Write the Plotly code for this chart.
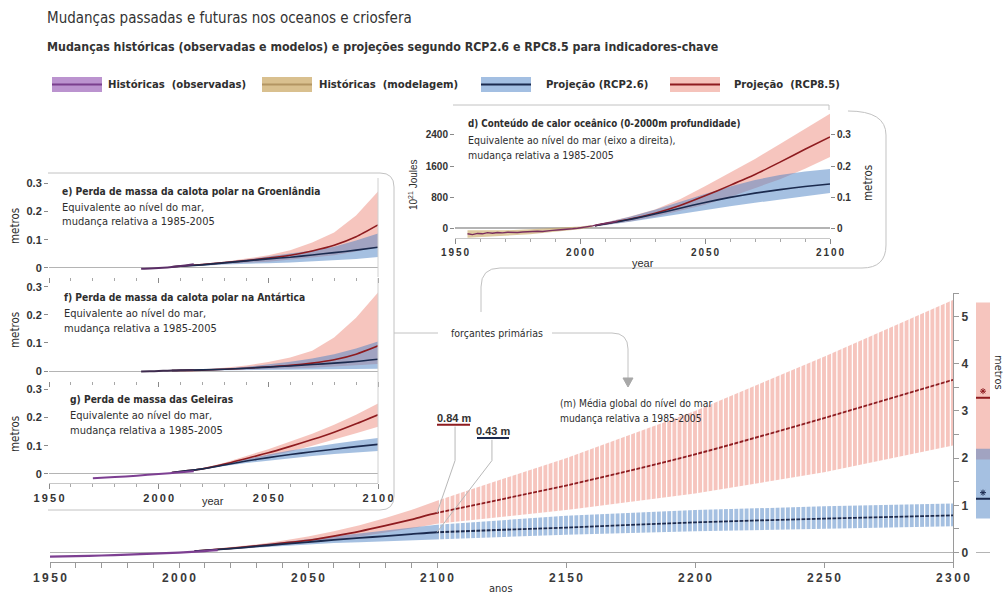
import plotly.graph_objects as go

W, H = 1005, 594

# ---------------- (m) global mean sea level, metres rel. 1986-2005 ----------------
gmsl_obs_year = [1950, 1960, 1970, 1980, 1990, 2000, 2010, 2015]
gmsl_obs = [-0.085, -0.075, -0.062, -0.045, -0.022, 0.0, 0.03, 0.05]

gmsl_year = [2006, 2020, 2030, 2040, 2050, 2060, 2070, 2080, 2090, 2100,
             2150, 2200, 2250, 2300]
gmsl_rcp26_mid = [0.03, 0.085, 0.13, 0.18, 0.22, 0.27, 0.31, 0.35, 0.39, 0.43, 0.53, 0.64, 0.72, 0.79]
gmsl_rcp26_lo = [0.02, 0.07, 0.10, 0.14, 0.17, 0.20, 0.22, 0.25, 0.27, 0.29, 0.38, 0.45, 0.51, 0.56]
gmsl_rcp26_hi = [0.04, 0.10, 0.16, 0.22, 0.28, 0.34, 0.40, 0.46, 0.52, 0.59, 0.78, 0.90, 0.98, 1.04]
gmsl_rcp85_mid = [0.03, 0.09, 0.14, 0.20, 0.26, 0.35, 0.45, 0.57, 0.70, 0.84, 1.42, 2.08, 2.85, 3.66]
gmsl_rcp85_lo = [0.02, 0.07, 0.11, 0.16, 0.21, 0.27, 0.34, 0.42, 0.51, 0.61, 0.90, 1.25, 1.70, 2.27]
gmsl_rcp85_hi = [0.04, 0.11, 0.17, 0.25, 0.34, 0.45, 0.58, 0.73, 0.90, 1.10, 2.00, 3.00, 4.15, 5.35]

# bar beside the right axis (RCP2.6, RCP8.5)
bar_scenario = ["RCP2.6", "RCP8.5"]
bar_low = [0.72, 1.97]
bar_high = [2.20, 5.30]
bar_mid = [1.14, 3.28]
bar_star = [1.27, 3.42]

# ---------------- inset panels e/f/g, metres of sea-level equivalent ----------------
proj_year = [2006, 2020, 2030, 2040, 2050, 2060, 2070, 2080, 2090, 2100]

e_obs_year = [1992, 1996, 2000, 2004, 2008, 2012, 2016]
e_obs = [-0.003, -0.002, 0.0, 0.002, 0.005, 0.009, 0.013]
e_rcp26_mid = [0.004, 0.011, 0.018, 0.025, 0.032, 0.038, 0.046, 0.054, 0.063, 0.073]
e_rcp26_lo = [0.003, 0.008, 0.012, 0.015, 0.017, 0.019, 0.022, 0.027, 0.032, 0.039]
e_rcp26_hi = [0.005, 0.014, 0.022, 0.030, 0.040, 0.050, 0.062, 0.075, 0.097, 0.122]
e_rcp85_mid = [0.004, 0.012, 0.019, 0.026, 0.035, 0.045, 0.060, 0.080, 0.110, 0.152]
e_rcp85_lo = [0.003, 0.009, 0.013, 0.018, 0.022, 0.030, 0.037, 0.045, 0.058, 0.075]
e_rcp85_hi = [0.005, 0.014, 0.022, 0.033, 0.045, 0.063, 0.090, 0.125, 0.185, 0.270]

f_obs_year = [1992, 1996, 2000, 2004, 2008, 2012, 2016]
f_obs = [-0.002, -0.001, 0.0, 0.001, 0.002, 0.003, 0.004]
f_rcp26_mid = [0.002, 0.004, 0.006, 0.010, 0.014, 0.018, 0.023, 0.028, 0.034, 0.042]
f_rcp26_lo = [0.001, 0.002, 0.003, 0.004, 0.004, 0.005, 0.006, 0.006, 0.007, 0.008]
f_rcp26_hi = [0.003, 0.005, 0.009, 0.015, 0.023, 0.033, 0.045, 0.060, 0.080, 0.105]
f_rcp85_mid = [0.002, 0.003, 0.006, 0.010, 0.015, 0.020, 0.028, 0.040, 0.060, 0.090]
f_rcp85_lo = [0.001, 0.002, 0.003, 0.005, 0.007, 0.009, 0.012, 0.015, 0.020, 0.025]
f_rcp85_hi = [0.003, 0.006, 0.012, 0.020, 0.032, 0.048, 0.072, 0.120, 0.190, 0.280]

g_obs_year = [1970, 1980, 1990, 2000, 2010, 2016]
g_obs = [-0.015, -0.011, -0.006, 0.0, 0.006, 0.010]
g_rcp26_mid = [0.005, 0.018, 0.032, 0.046, 0.058, 0.069, 0.079, 0.088, 0.097, 0.105]
g_rcp26_lo = [0.005, 0.016, 0.028, 0.039, 0.048, 0.056, 0.064, 0.071, 0.077, 0.082]
g_rcp26_hi = [0.005, 0.020, 0.037, 0.054, 0.069, 0.083, 0.096, 0.107, 0.118, 0.128]
g_rcp85_mid = [0.005, 0.018, 0.035, 0.055, 0.075, 0.098, 0.122, 0.148, 0.178, 0.210]
g_rcp85_lo = [0.005, 0.016, 0.030, 0.047, 0.063, 0.080, 0.100, 0.122, 0.145, 0.168]
g_rcp85_hi = [0.005, 0.020, 0.040, 0.063, 0.088, 0.115, 0.143, 0.175, 0.210, 0.250]

# ---------------- inset d: ocean heat content 0-2000 m, 10^21 J ----------------
d_model_year = [1955, 1960, 1970, 1980, 1990, 2000, 2005]
d_model_lo = [-250, -230, -200, -160, -100, -30, 20]
d_model_hi = [-60, -60, -60, -30, 10, 40, 80]
d_obs_year = [1955, 1957, 1959, 1961, 1963, 1965, 1967, 1969, 1971, 1973, 1975, 1977,
              1979, 1981, 1983, 1985, 1987, 1989, 1991, 1993, 1995, 1997, 1999, 2001,
              2003, 2005, 2007, 2009, 2011, 2013, 2015]
d_obs = [-150, -170, -140, -150, -120, -135, -115, -125, -110, -120, -115, -105,
         -95, -100, -85, -90, -70, -60, -50, -45, -30, -20, -5, 10,
         30, 55, 85, 100, 130, 150, 175]
d_rcp26_mid = [60, 220, 360, 510, 660, 790, 900, 990, 1070, 1135]
d_rcp26_lo = [40, 160, 260, 360, 460, 560, 650, 740, 820, 900]
d_rcp26_hi = [80, 290, 470, 680, 880, 1070, 1240, 1370, 1460, 1520]
d_rcp85_mid = [60, 230, 380, 580, 830, 1100, 1380, 1700, 2030, 2350]
d_rcp85_lo = [40, 170, 290, 440, 600, 800, 1020, 1260, 1530, 1830]
d_rcp85_hi = [80, 300, 480, 740, 1080, 1420, 1780, 2170, 2560, 2950]
JOULE_PER_METRE = 8000  # 800 x 10^21 J of heat ~ 0.1 m of thermosteric rise

# ---------------- styling ----------------
PINK = "rgba(238,140,125,0.5)"
BLUE = "rgba(75,130,195,0.5)"
TAN = "rgba(200,165,95,0.6)"
RED = "#8e1b1f"
NAVY = "#1b2a4e"
PURPLE = "#7d3f92"
GREY = "#c2c2c2"
AXIS = "#9a9a9a"
TXT = "#2e2e2e"
COND = "DejaVu Sans Condensed, DejaVu Sans, sans-serif"
NUM = "Liberation Sans, Arial, sans-serif"
THIN = "\u2009"


def spaced(s):
    return THIN.join(s)


def px(x):
    return x / W


def py(y):
    return 1 - y / H


def P(x, y):
    return f"{px(x):.5f},{py(y):.5f}"


fig = go.Figure()
annotations = []


def text(x, y, s, size, bold=False, anchor="left", color=TXT, family=COND, angle=0):
    annotations.append(dict(
        x=px(x), y=py(y), xref="paper", yref="paper", text=s, showarrow=False,
        xanchor=anchor, yanchor="middle", textangle=angle,
        font=dict(size=size, color=color, family=family, weight="bold" if bold else "normal")))


def band(xs, lo, hi, color, xa="x", ya="y"):
    fig.add_trace(go.Scatter(
        x=list(xs) + list(xs)[::-1], y=list(hi) + list(lo)[::-1],
        fill="toself", fillcolor=color, mode="lines", line=dict(width=0),
        xaxis=xa, yaxis=ya, hoverinfo="skip", showlegend=False))


def curve(xs, ys, color, width, xa="x", ya="y", smooth=True):
    fig.add_trace(go.Scatter(
        x=xs, y=ys, mode="lines",
        line=dict(color=color, width=width, shape="spline" if smooth else "linear",
                  smoothing=0.6),
        xaxis=xa, yaxis=ya, hoverinfo="skip", showlegend=False))


# ---- main panel (m) ----
band(gmsl_year, gmsl_rcp85_lo, gmsl_rcp85_hi, PINK)
band(gmsl_year, gmsl_rcp26_lo, gmsl_rcp26_hi, BLUE)
curve(gmsl_year, gmsl_rcp85_mid, RED, 1.8)
curve(gmsl_year, gmsl_rcp26_mid, NAVY, 1.8)
curve(gmsl_obs_year, gmsl_obs, PURPLE, 2.2)

# white hatching over the 2100-2300 extension
sx, sy = [], []
for yr in range(2101, 2300, 2):
    sx += [yr, yr, None]
    sy += [0.15, 5.5, None]
fig.add_trace(go.Scatter(x=sx, y=sy, mode="lines", line=dict(color="white", width=1.3),
                         hoverinfo="skip", showlegend=False))

# leader lines for the 2100 values
i2100 = gmsl_year.index(2100)
for val, xlab, ylab, col, (ux0, ux1) in [
        (gmsl_rcp85_mid[i2100], 2107.0, 2.67, RED, (2100.0, 2112.8)),
        (gmsl_rcp26_mid[i2100], 2121.3, 2.39, NAVY, (2115.5, 2127.9))]:
    curve([xlab, xlab, 2100], [ylab, 1.95, val], "#b8b8b8", 1, smooth=False)
    curve([ux0, ux1], [ylab + 0.04, ylab + 0.04], col, 2, smooth=False)
    annotations.append(dict(x=(ux0 + ux1) / 2, y=ylab + 0.19, xref="x", yref="y",
                            text=f"<b>{val:.2f} m</b>", showarrow=False,
                            font=dict(size=11, color="#333", family=NUM)))

# bar on the far right
for lo, hi, col in [(bar_low[1], bar_high[1], PINK), (bar_low[0], bar_high[0], BLUE)]:
    fig.add_trace(go.Bar(x=[0.5], y=[hi - lo], base=[lo], width=[1.0],
                         marker=dict(color=col, line=dict(width=0)),
                         xaxis="x7", yaxis="y", hoverinfo="skip", showlegend=False))
for mid, star, col in [(bar_mid[1], bar_star[1], RED), (bar_mid[0], bar_star[0], NAVY)]:
    curve([0, 1], [mid, mid], col, 2, xa="x7", smooth=False)
    fig.add_trace(go.Scatter(x=[0.5], y=[star], mode="markers",
                             marker=dict(symbol="asterisk-open", size=5, color=col,
                                         line=dict(color=col, width=1)),
                             xaxis="x7", yaxis="y", hoverinfo="skip", showlegend=False))

# ---- panels e, f, g ----
for xa, ya, obs_x, obs_y, lo85, hi85, mid85, lo26, hi26, mid26, obs_col in [
        ("x2", "y2", e_obs_year, e_obs, e_rcp85_lo, e_rcp85_hi, e_rcp85_mid,
         e_rcp26_lo, e_rcp26_hi, e_rcp26_mid, "#5a2d66"),
        ("x3", "y3", f_obs_year, f_obs, f_rcp85_lo, f_rcp85_hi, f_rcp85_mid,
         f_rcp26_lo, f_rcp26_hi, f_rcp26_mid, "#3e2b4e"),
        ("x4", "y4", g_obs_year, g_obs, g_rcp85_lo, g_rcp85_hi, g_rcp85_mid,
         g_rcp26_lo, g_rcp26_hi, g_rcp26_mid, PURPLE)]:
    band(proj_year, lo85, hi85, PINK, xa, ya)
    band(proj_year, lo26, hi26, BLUE, xa, ya)
    curve(proj_year, mid85, RED, 1.6, xa, ya)
    curve(proj_year, mid26, NAVY, 1.6, xa, ya)
    curve(obs_x, obs_y, obs_col, 2, xa, ya)

# ---- panel d ----
band(d_model_year, d_model_lo, d_model_hi, TAN, "x5", "y5")
band(proj_year, d_rcp85_lo, d_rcp85_hi, PINK, "x5", "y5")
band(proj_year, d_rcp26_lo, d_rcp26_hi, BLUE, "x5", "y5")
curve(proj_year, d_rcp85_mid, RED, 1.6, "x5", "y5")
curve(proj_year, d_rcp26_mid, NAVY, 1.6, "x5", "y5")
curve(d_obs_year, d_obs, "#7a2f5e", 1.4, "x5", "y5", smooth=False)
fig.add_trace(go.Scatter(x=[None], y=[None], xaxis="x5", yaxis="y6", showlegend=False))

# ---------------- axes ----------------
tickfont_main = dict(size=12, color="#3a3a3a", family=NUM, weight="bold")
main_major = [1950, 2000, 2050, 2100, 2150, 2200, 2250, 2300]
main_minor = [yr for yr in range(1960, 2100, 10) if yr % 50 != 0]

layout_axes = dict(
    xaxis=dict(domain=[px(50), px(953)], range=[1950, 2300], anchor="y",
               showline=True, linecolor=AXIS, ticks="outside", ticklen=5, tickcolor=AXIS,
               tickvals=main_major, ticktext=[spaced(str(t)) for t in main_major],
               minor=dict(tickvals=main_minor, ticks="outside", ticklen=5, tickcolor=AXIS),
               tickfont=tickfont_main, showgrid=False, zeroline=False, automargin=False),
    yaxis=dict(domain=[py(562), py(293)], range=[-0.2, 5.5], anchor="x", side="right",
               showline=True, linecolor=AXIS, ticks="outside", ticklen=5, tickcolor=AXIS,
               tickvals=[0, 1, 2, 3, 4, 5],
               minor=dict(tickvals=[0.5, 1.5, 2.5, 3.5, 4.5, 5.5], ticks="outside",
                          ticklen=5, tickcolor=AXIS),
               tickfont=tickfont_main, showgrid=False, automargin=False,
               zeroline=True, zerolinecolor="#b4b4b4", zerolinewidth=1),
    xaxis7=dict(domain=[px(976), px(990)], range=[0, 1], anchor="y", visible=False),
)

inset_tickfont = dict(size=11, color="#333", family=NUM, weight="bold")
# pixel boxes (top, bottom) and y ranges of e, f, g
for n, (top, bot, rng, labels) in zip(
        [2, 3, 4],
        [(178, 277, [-0.032, 0.318], False),
         (278, 381, [-0.0357, 0.332], False),
         (381, 483, [-0.032, 0.33], True)]):
    layout_axes[f"xaxis{n}"] = dict(
        domain=[px(49), px(378)], range=[1950, 2100], anchor=f"y{n}",
        tickvals=[1950, 2000, 2050, 2100],
        ticktext=[spaced(str(t)) for t in [1950, 2000, 2050, 2100]],
        showticklabels=labels, ticks="outside", ticklen=5, tickcolor="#8a8a8a",
        minor=dict(dtick=10, tick0=1950, ticklen=3, tickcolor="#a8a8a8", ticks="outside"),
        showline=labels, linecolor="#c8c8c8", showgrid=False, zeroline=False,
        tickfont=inset_tickfont, automargin=False)
    layout_axes[f"yaxis{n}"] = dict(
        domain=[py(bot), py(top)], range=rng, anchor=f"x{n}",
        tickvals=[0, 0.1, 0.2, 0.3], ticktext=["0", "0.1", "0.2", "0.3"],
        ticks="outside", ticklen=4, tickcolor="#8a8a8a", showline=False, showgrid=False,
        zeroline=True, zerolinecolor="#b4b4b4", zerolinewidth=1, tickfont=inset_tickfont,
        automargin=False)

d_range = [-258, 3174]
layout_axes["xaxis5"] = dict(
    domain=[px(455), px(830)], range=[1950, 2100], anchor="y5",
    tickvals=[1950, 2000, 2050, 2100],
    ticktext=[spaced(str(t)) for t in [1950, 2000, 2050, 2100]],
    ticks="outside", ticklen=5, tickcolor="#8a8a8a",
    minor=dict(dtick=10, tick0=1950, ticklen=3, tickcolor="#a8a8a8", ticks="outside"),
    showline=True, linecolor="#c8c8c8", showgrid=False, zeroline=False, automargin=False,
    tickfont=dict(size=10, color="#333", family=NUM, weight="bold"))
layout_axes["yaxis5"] = dict(
    domain=[py(238), py(105)], range=d_range, anchor="x5",
    tickvals=[0, 800, 1600, 2400], ticks="outside", ticklen=4, tickcolor="#8a8a8a",
    showline=False, showgrid=False, zeroline=True, zerolinecolor="#b4b4b4", automargin=False,
    tickfont=dict(size=10, color="#333", family=NUM, weight="bold"))
layout_axes["yaxis6"] = dict(
    overlaying="y5", side="right", anchor="x5",
    range=[d_range[0] / JOULE_PER_METRE, d_range[1] / JOULE_PER_METRE],
    tickvals=[0, 0.1, 0.2, 0.3], ticktext=["0", "0.1", "0.2", "0.3"],
    ticks="outside", ticklen=4, tickcolor="#8a8a8a", showline=False, showgrid=False,
    zeroline=False, automargin=False,
    tickfont=dict(size=10, color="#333", family=NUM, weight="bold"))

# ---------------- frames, connectors, legend swatches ----------------
shapes = []


def path(d, color=GREY, width=1, fill=None):
    s = dict(type="path", path=d, xref="paper", yref="paper",
             line=dict(color=color, width=width), layer="above")
    if fill:
        s["fillcolor"] = fill
    shapes.append(s)


# left box around e/f/g
path(f"M {P(48,173)} L {P(380,173)} Q {P(394,173)} {P(394,187)} L {P(394,496)} "
     f"Q {P(394,510)} {P(380,510)} L {P(48,510)}")
# right-hand frame lines of e, f, g
for top, bot in [(178, 277), (278, 381), (381, 483)]:
    path(f"M {P(378,top)} L {P(378,bot)}", color="#d0d0d0")
# panel d frame top and bracket
path(f"M {P(453,105)} L {P(829,105)} L {P(829,110)}")
path(f"M {P(848,111)} Q {P(886,111)} {P(886,135)} L {P(886,245)} "
     f"Q {P(886,268)} {P(862,268)} L {P(500,268)} Q {P(481,268)} {P(481,287)} L {P(481,312)}")
# "forçantes primárias" connectors and arrow
path(f"M {P(394,333)} L {P(438,333)}")
path(f"M {P(552,333)} L {P(612,333)} Q {P(628,333)} {P(628,349)} L {P(628,379)}")
path(f"M {P(623,378)} L {P(633,378)} L {P(628,387)} Z", color="#a8a8a8", fill="#a8a8a8")

# legend swatches
for x0, fillc, linec in [(52, "#bb93cf", "#7a3f8e"), (262, "#d9c08f", "#b39563"),
                         (481, "#a3bfe2", "#1b2a4e"), (670, "#f5c3bb", "#8e1b1f")]:
    shapes.append(dict(type="rect", xref="paper", yref="paper", x0=px(x0), x1=px(x0 + 50),
                       y0=py(92), y1=py(77), fillcolor=fillc, line=dict(width=0), layer="above"))
    shapes.append(dict(type="line", xref="paper", yref="paper", x0=px(x0), x1=px(x0 + 50),
                       y0=py(84.5), y1=py(84.5), line=dict(color=linec, width=2), layer="above"))

# ---------------- texts ----------------
text(45, 18, "Mudanças passadas e futuras nos oceanos e criosfera", 15, color="#333")
text(45, 47, "Mudanças históricas (observadas e modelos) e projeções segundo RCP2.6 e RPC8.5 "
     "para indicadores-chave", 12.3, bold=True, color="#333")

text(106, 84, "Históricas  (observadas)", 11.2, bold=True)
text(317, 84, "Históricas  (modelagem)", 11.2, bold=True)
text(544, 84, "Projeção (RCP2.6)", 11.2, bold=True)
text(732, 84, "Projeção  (RCP8.5)", 11.2, bold=True)

text(60, 191, "e) Perda de massa da calota polar na Groenlândia", 10.2, bold=True)
text(60, 207, "Equivalente ao nível do mar,", 11)
text(60, 222, "mudança relativa a 1985-2005", 11)
text(62, 297, "f) Perda de massa da calota polar na Antártica", 10.2, bold=True)
text(62, 313, "Equivalente ao nível do mar,", 11)
text(62, 328, "mudança relativa a 1985-2005", 11)
text(68, 399, "g) Perda de massa das Geleiras", 10.2, bold=True)
text(68, 415, "Equivalente ao nível do mar,", 11)
text(68, 430, "mudança relativa a 1985-2005", 11)
for yc in [226, 330, 434]:
    text(15, yc, "metros", 11.5, angle=-90, anchor="center")
text(213, 501, "year", 11, anchor="center", family=NUM)

text(466, 124, "d) Conteúdo de calor oceânico (0-2000m profundidade)", 9.7, bold=True)
text(466, 140, "Equivalente ao nível do mar (eixo a direita),", 10.5)
text(466, 155, "mudança relativa a 1985-2005", 10.5)
text(413, 185, "10<sup>21</sup> Joules", 10, angle=-90, anchor="center", family=NUM)
text(868, 183, "metros", 11.5, angle=-90, anchor="center")
text(643, 263, "year", 11, anchor="center", family=NUM)

text(497, 333, "forçantes primárias", 10.5, anchor="center")
text(558, 403, "(m) Média global do nível do mar", 10.2)
text(558, 418, "mudança relativa a 1985-2005", 10.2)
text(501, 588, "anos", 11, anchor="center")
text(999, 372, "metros", 11, angle=90, anchor="center")

fig.update_layout(
    width=W, height=H, margin=dict(l=0, r=0, t=0, b=0, autoexpand=False),
    paper_bgcolor="white", plot_bgcolor="rgba(0,0,0,0)",
    showlegend=False, barmode="overlay",
    shapes=shapes, annotations=annotations,
    **layout_axes)

fig.write_html("out.html")
